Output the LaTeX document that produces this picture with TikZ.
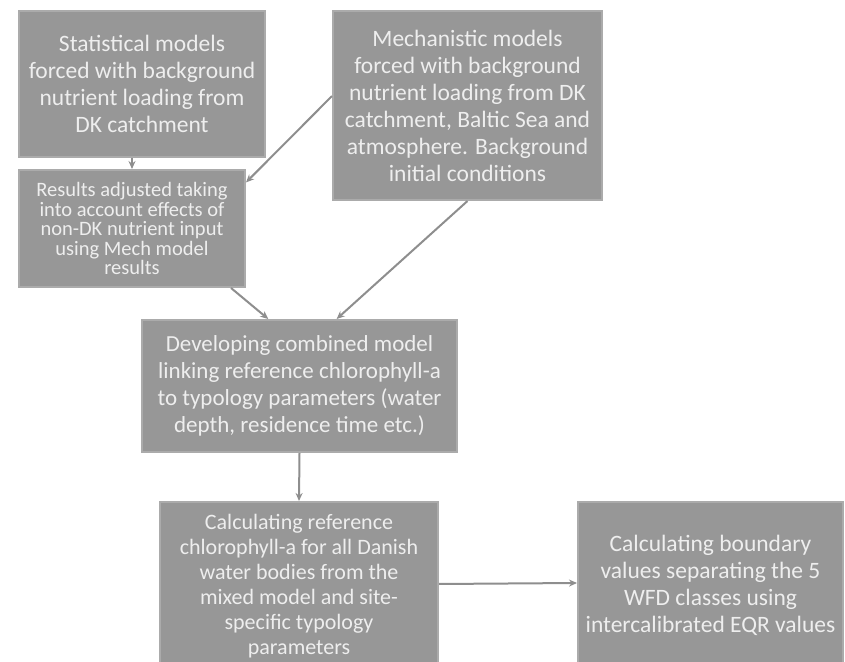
\documentclass[tikz,border=0pt]{standalone}
\usepackage{fontspec}
\setmainfont{Carlito}
\usetikzlibrary{arrows.meta}

\definecolor{boxgray}{HTML}{979797}
\definecolor{boxline}{HTML}{ABABAB}
\definecolor{textgray}{HTML}{EEEEEE}
\definecolor{arrowgray}{HTML}{8E8E8E}

\begin{document}
\begin{tikzpicture}[
    x=1pt, y=1pt,
    % Define node style
    box style/.style={
        draw=boxline, % Light border
        fill=boxgray, % Gray fill
        text=textgray, % Light text
        rectangle, % Rectangle shape
        inner sep=0pt, % No padding
        align=center, % Center alignment
        font=\fontsize{23.5}{27}\selectfont % Large text
      },
    % Define arrow style
    ->, % Default arrow direction
    >={Stealth[length=8pt, width=7pt]}, % Arrow type
    line width=2pt, % Line thickness
    arrowgray % Line colour
  ]

  % Fix the page and cut what hangs below it
  \useasboundingbox (0,0) rectangle (845,661);
  \clip (0,0) rectangle (845,661);

  % Define nodes
  \node[box style, minimum width=246, minimum height=146] (Statistical) at (142, 577)
    {Statistical models\\forced with background\\nutrient loading from\\DK catchment}; % Top left
  \node[box style, minimum width=226, minimum height=117, font=\fontsize{20.5}{19.5}\selectfont] (Adjusted) at (132, 432.5)
    {Results adjusted taking\\into account effects of\\non-DK nutrient input\\using Mech model\\results}; % Below the statistical box
  \node[box style, minimum width=269, minimum height=189] (Mechanistic) at (467.5, 555.5)
    {Mechanistic models\\forced with background\\nutrient loading from DK\\catchment, Baltic Sea and\\atmosphere. Background\\initial conditions}; % Top right
  \node[box style, minimum width=315, minimum height=132, font=\fontsize{23}{27}\selectfont] (Combined) at (299.5, 275)
    {Developing combined model\\linking reference chlorophyll-a\\to typology parameters (water\\depth, residence time etc.)}; % Middle
  \node[box style, minimum width=278, minimum height=168, font=\fontsize{22}{25}\selectfont] (Reference) at (299, 75)
    {Calculating reference\\chlorophyll-a for all Danish\\water bodies from the\\mixed model and site-\\specific typology\\parameters}; % Bottom left, cut by the page
  \node[box style, minimum width=265, minimum height=166] (Boundary) at (710.5, 76)
    {Calculating boundary\\values separating the 5\\WFD classes using\\intercalibrated EQR values}; % Bottom right

  % Draw arrows
  % short arrow between the two left boxes
  \draw (Statistical.south -| Adjusted.north) -- (Adjusted.north);

  % mechanistic results feed the adjustment
  \draw (Mechanistic.176) -- (Adjusted.22);

  % both branches go into the combined model
  \draw (Adjusted.-31) -- (Combined.115);
  \draw (Mechanistic.south) -- (Combined.61);

  % straight down, then to the right
  \draw (Combined.south) -- (Reference.north);
  \draw ([yshift=2pt]Reference.east) -- ([yshift=2pt]Boundary.west);

\end{tikzpicture}
\end{document}
